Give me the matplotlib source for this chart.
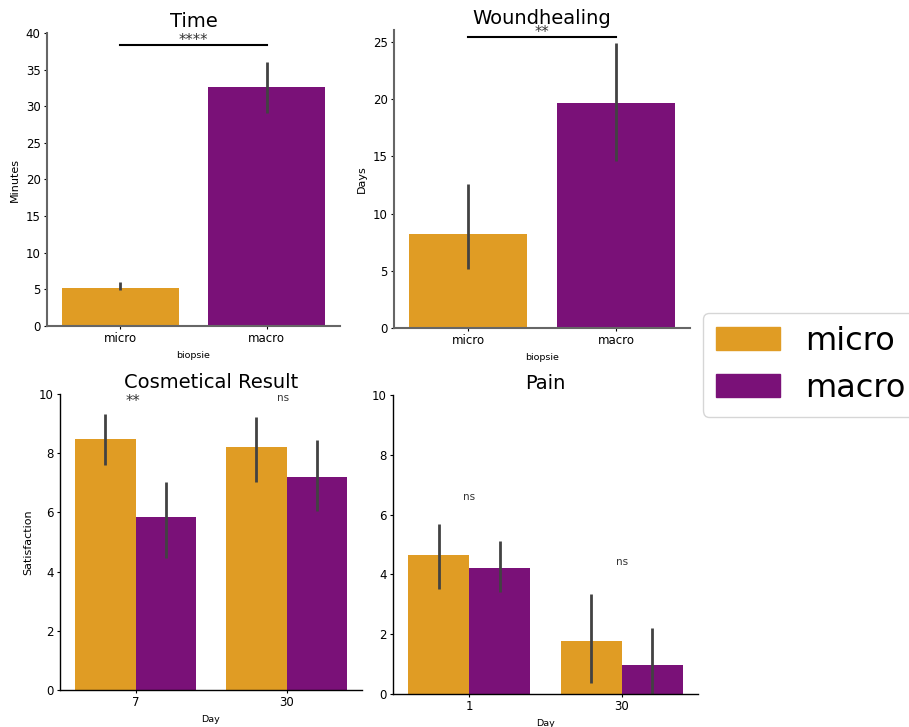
import numpy as np
import matplotlib
matplotlib.use("Agg")
import matplotlib.pyplot as plt
from matplotlib.patches import Patch

# colours (seaborn-desaturated orange / purple)
c_micro = '#e09c24'
c_macro = '#7a1178'
err_col = '#424242'

groups = ['micro', 'macro']

# Time (minutes)
time_mean = [5.2, 32.6]
time_lo = [4.9, 29.1]
time_hi = [6.0, 36.0]

# Woundhealing (days)
wound_mean = [8.2, 19.7]
wound_lo = [5.2, 14.6]
wound_hi = [12.6, 24.9]

# Cosmetical result (satisfaction) per day
cos_days = ['7', '30']
cos_micro = [8.48, 8.2]
cos_micro_lo = [7.6, 7.03]
cos_micro_hi = [9.32, 9.22]
cos_macro = [5.84, 7.2]
cos_macro_lo = [4.46, 6.05]
cos_macro_hi = [7.03, 8.45]
cos_sig = ['**', 'ns']

# Pain per day
pain_days = ['1', '30']
pain_micro = [4.65, 1.77]
pain_micro_lo = [3.5, 0.37]
pain_micro_hi = [5.69, 3.34]
pain_macro = [4.21, 0.97]
pain_macro_lo = [3.41, 0.0]
pain_macro_hi = [5.12, 2.2]
pain_sig = ['ns', 'ns']
pain_sig_y = [6.6, 4.4]

W, H = 909, 727
fig = plt.figure(figsize=(W / 100, H / 100), dpi=100)


def make_ax(l, r, t, b):
    return fig.add_axes([l / W, 1 - b / H, (r - l) / W, (b - t) / H])


def style(ax, spine_col, spine_lw):
    for s in ['top', 'right']:
        ax.spines[s].set_visible(False)
    for s in ['left', 'bottom']:
        ax.spines[s].set_color(spine_col)
        ax.spines[s].set_linewidth(spine_lw)
    ax.tick_params(labelsize=8.5, length=2, width=0.8, pad=2.5)


def simple_panel(ax, mean, lo, hi, title, ylabel, ylim, yticks, star, line_y):
    x = np.arange(len(groups))
    ax.bar(x, mean, width=0.8, color=[c_micro, c_macro])
    ax.vlines(x, lo, hi, color=err_col, lw=2.0)
    ax.set_xlim(-0.5, 1.5)
    ax.set_ylim(*ylim)
    ax.set_yticks(yticks)
    ax.set_xticks(x)
    ax.set_xticklabels(groups)
    ax.set_xlabel('biopsie', fontsize=6.8)
    ax.set_ylabel(ylabel, fontsize=8)
    ax.set_title(title, fontsize=14, pad=4)
    ax.plot([0, 1], [line_y, line_y], color='black', lw=1.5, clip_on=False)
    ax.text(0.5, line_y, star, ha='center', va='baseline', fontsize=10.5,
            color='#333333')
    style(ax, '#666666', 1.5)


ax1 = make_ax(47, 340, 33, 326)
simple_panel(ax1, time_mean, time_lo, time_hi, 'Time', 'Minutes',
             (0, 40), np.arange(0, 41, 5), '****', 38.3)

ax2 = make_ax(394, 690, 30, 328)
simple_panel(ax2, wound_mean, wound_lo, wound_hi, 'Woundhealing', 'Days',
             (0, 26.05), np.arange(0, 26, 5), '**', 25.4)


def grouped_panel(ax, days, m1, lo1, hi1, m2, lo2, hi2, title, ylabel):
    x = np.arange(len(days))
    ax.bar(x - 0.2, m1, width=0.4, color=c_micro)
    ax.bar(x + 0.2, m2, width=0.4, color=c_macro)
    ax.vlines(x - 0.2, lo1, hi1, color=err_col, lw=2.0)
    ax.vlines(x + 0.2, lo2, hi2, color=err_col, lw=2.0)
    ax.set_xlim(-0.5, 1.5)
    ax.set_ylim(0, 10)
    ax.set_yticks(np.arange(0, 11, 2))
    ax.set_xticks(x)
    ax.set_xticklabels(days)
    ax.set_xlabel('Day', fontsize=6.8)
    ax.set_ylabel(ylabel, fontsize=8)
    ax.set_title(title, fontsize=14, pad=4)
    style(ax, 'black', 1.0)


ax3 = make_ax(60, 362, 394, 690)
grouped_panel(ax3, cos_days, cos_micro, cos_micro_lo, cos_micro_hi,
              cos_macro, cos_macro_lo, cos_macro_hi, 'Cosmetical Result', 'Satisfaction')
for i, s in enumerate(cos_sig):
    fs = 10.5 if s.startswith('*') else 7.5
    yy = 9.75 if s.startswith('*') else 9.85
    ax3.text(i - 0.02, yy, s, ha='center', va='center', fontsize=fs, color='#333333')

ax4 = make_ax(393, 698, 395, 694)
grouped_panel(ax4, pain_days, pain_micro, pain_micro_lo, pain_micro_hi,
              pain_macro, pain_macro_lo, pain_macro_hi, 'Pain', '')
for i, s in enumerate(pain_sig):
    ax4.text(i, pain_sig_y[i], s, ha='center', va='center', fontsize=7.5, color='#333333')

handles = [Patch(color=c_micro, label='micro'), Patch(color=c_macro, label='macro')]
fig.legend(handles=handles, loc='upper left', bbox_to_anchor=(703 / W, 1 - 313 / H),
           fontsize=23, frameon=True, borderaxespad=0)

fig.savefig('out.png', dpi=100)
